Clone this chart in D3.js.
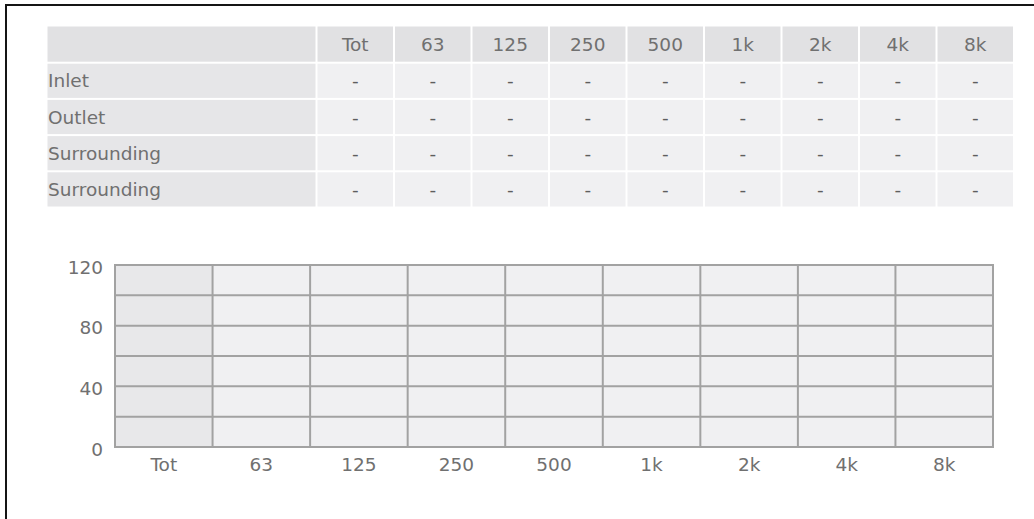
<!DOCTYPE html>
<html>
<head>
<meta charset="utf-8">
<script src="https://cdn.jsdelivr.net/npm/d3@7"></script>
<style>
  html, body { margin: 0; padding: 0; background: #fff; overflow: hidden; }
  svg { display: block; }
  text { font-family: "DejaVu Sans", Verdana, sans-serif; }
</style>
</head>
<body>
<svg id="chart" width="1034" height="519"></svg>
<script>
// ---- data ----
const bands = ["Tot", "63", "125", "250", "500", "1k", "2k", "4k", "8k"];
const seriesNames = ["Inlet", "Outlet", "Surrounding", "Surrounding"];
const inletValues = [null, null, null, null, null, null, null, null, null];
const outletValues = [null, null, null, null, null, null, null, null, null];
const surrounding1Values = [null, null, null, null, null, null, null, null, null];
const surrounding2Values = [null, null, null, null, null, null, null, null, null];
const yTicks = [0, 40, 80, 120];
const yGrid = [0, 20, 40, 60, 80, 100, 120];

const seriesValues = [inletValues, outletValues, surrounding1Values, surrounding2Values];
const rows = seriesNames.map((name, i) => ({ name, values: seriesValues[i] }));

const svg = d3.select("#chart");
const textColor = "#707070";
const fontSize = 18.5;

// ---- outer frame ----
svg.append("rect")
  .attr("x", 6).attr("y", 5)
  .attr("width", 1200).attr("height", 700)
  .attr("fill", "none").attr("stroke", "#151515").attr("stroke-width", 2);

// ---- table ----
const tableLeft = 47.5, labelColRight = 316.5, tableRight = 1014;
const colX = d3.scaleBand().domain(bands).range([labelColRight, tableRight]);
const rowKeys = ["header"].concat(rows.map((r, i) => "r" + i));
const rowY = d3.scaleBand().domain(rowKeys).range([26.5, 207.5]);
const gap = 2;

const table = svg.append("g").attr("class", "table");

// header row
table.append("rect")
  .attr("x", tableLeft).attr("y", rowY("header"))
  .attr("width", labelColRight - tableLeft - gap / 2).attr("height", rowY.bandwidth() - gap / 2)
  .attr("fill", "#e1e1e3");
table.selectAll("rect.hcell").data(bands).join("rect")
  .attr("class", "hcell")
  .attr("x", d => colX(d) + gap / 2).attr("y", rowY("header"))
  .attr("width", colX.bandwidth() - gap).attr("height", rowY.bandwidth() - gap / 2)
  .attr("fill", "#e1e1e3");
table.selectAll("text.htext").data(bands).join("text")
  .attr("class", "htext")
  .attr("x", d => colX(d) + colX.bandwidth() / 2)
  .attr("y", rowY("header") + rowY.bandwidth() / 2)
  .attr("dy", "0.36em")
  .attr("text-anchor", "middle")
  .attr("font-size", fontSize).attr("fill", textColor)
  .text(d => d);

// data rows
const rowG = table.selectAll("g.row").data(rows).join("g")
  .attr("class", "row")
  .attr("transform", (d, i) => `translate(0,${rowY("r" + i)})`);
rowG.append("rect")
  .attr("x", tableLeft).attr("y", gap / 2)
  .attr("width", labelColRight - tableLeft - gap / 2).attr("height", rowY.bandwidth() - gap)
  .attr("fill", "#e6e6e8");
rowG.append("text")
  .attr("x", tableLeft + 0.5).attr("y", rowY.bandwidth() / 2)
  .attr("dy", "0.36em")
  .attr("font-size", fontSize).attr("fill", textColor)
  .text(d => d.name);
rowG.selectAll("rect.cell").data(d => d.values.map((v, j) => ({ band: bands[j], v }))).join("rect")
  .attr("class", "cell")
  .attr("x", d => colX(d.band) + gap / 2).attr("y", gap / 2)
  .attr("width", colX.bandwidth() - gap).attr("height", rowY.bandwidth() - gap)
  .attr("fill", "#f0f0f2");
rowG.selectAll("text.cell").data(d => d.values.map((v, j) => ({ band: bands[j], v }))).join("text")
  .attr("class", "cell")
  .attr("x", d => colX(d.band) + colX.bandwidth() / 2)
  .attr("y", rowY.bandwidth() / 2)
  .attr("dy", "0.36em")
  .attr("text-anchor", "middle")
  .attr("font-size", fontSize).attr("fill", "#5e5e5e")
  .text(d => d.v == null ? "-" : d3.format(".1f")(d.v));

// ---- chart ----
const plot = { left: 115, right: 993, top: 265, bottom: 447 };
const x = d3.scaleBand().domain(bands).range([plot.left, plot.right]);
const y = d3.scaleLinear().domain([0, 120]).range([plot.bottom, plot.top]);

const chart = svg.append("g").attr("class", "plot");

// column backgrounds
chart.selectAll("rect.colbg").data(bands).join("rect")
  .attr("class", "colbg")
  .attr("x", d => x(d)).attr("y", y(120))
  .attr("width", x.bandwidth()).attr("height", y(0) - y(120))
  .attr("fill", (d, i) => i === 0 ? "#e8e8ea" : "#f0f0f2");

// bars (series values; empty when no data)
const barData = [];
rows.forEach((r, si) => r.values.forEach((v, j) => { if (v != null) barData.push({ s: si, band: bands[j], v }); }));
const inner = d3.scaleBand().domain(d3.range(rows.length)).range([0, x.bandwidth()]).padding(0.2);
const barColors = ["#4f81bd", "#c0504d", "#9bbb59", "#8064a2"];
chart.selectAll("rect.bar").data(barData).join("rect")
  .attr("class", "bar")
  .attr("x", d => x(d.band) + inner(d.s)).attr("width", inner.bandwidth())
  .attr("y", d => y(d.v)).attr("height", d => y(0) - y(d.v))
  .attr("fill", d => barColors[d.s]);

// horizontal grid lines
chart.selectAll("line.hgrid").data(yGrid).join("line")
  .attr("class", "hgrid")
  .attr("x1", plot.left).attr("x2", plot.right)
  .attr("y1", d => y(d)).attr("y2", d => y(d))
  .attr("stroke", "#a2a2a2").attr("stroke-width", 2);

// vertical lines at band edges
const edges = bands.map(b => x(b)).concat([x(bands[bands.length - 1]) + x.bandwidth()]);
chart.selectAll("line.vgrid").data(edges).join("line")
  .attr("class", "vgrid")
  .attr("x1", d => d).attr("x2", d => d)
  .attr("y1", y(120) - 1).attr("y2", y(0) + 1)
  .attr("stroke", "#a2a2a2").attr("stroke-width", 2);

// y axis
const yAxis = d3.axisLeft(y).tickValues(yTicks).tickSize(0).tickPadding(12);
const yg = svg.append("g").attr("transform", `translate(${plot.left},0)`).call(yAxis);
yg.select(".domain").remove();
yg.selectAll("text").attr("font-size", fontSize).attr("fill", textColor)
  .attr("font-family", "DejaVu Sans").attr("dy", "0.45em");

// x axis
const xAxis = d3.axisBottom(x).tickSize(0).tickPadding(11);
const xg = svg.append("g").attr("transform", `translate(0,${plot.bottom})`).call(xAxis);
xg.select(".domain").remove();
xg.selectAll("text").attr("font-size", fontSize).attr("fill", textColor)
  .attr("font-family", "DejaVu Sans");
</script>
</body>
</html>
